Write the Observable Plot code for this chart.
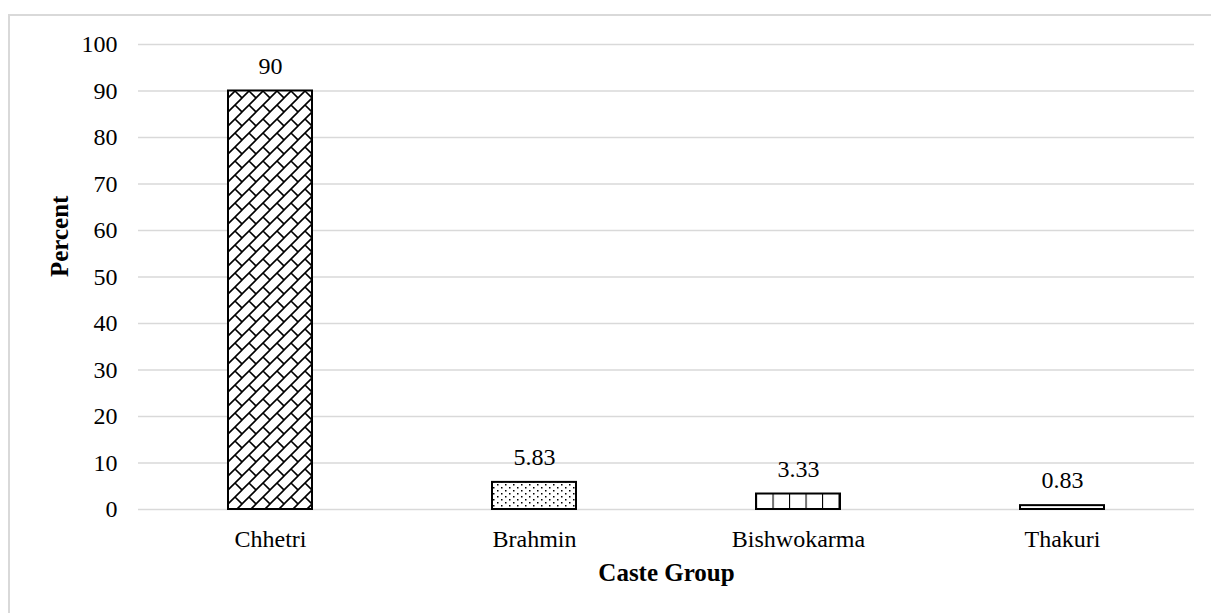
<!DOCTYPE html>
<html>
<head>
<meta charset="utf-8">
<script src="https://cdn.jsdelivr.net/npm/d3@7"></script>
<script src="https://cdn.jsdelivr.net/npm/@observablehq/plot@0.6"></script>
<style>
  html, body { margin: 0; padding: 0; background: #fff; }
  #chart { position: relative; width: 1211px; height: 613px; overflow: hidden; }
  #chart::before {
    content: ""; position: absolute; left: 8px; top: 14px;
    width: 1300px; height: 700px; border: 2px solid #d9d9d9;
  }
  #chart svg { position: absolute; left: 0; top: 0; }
  #chart svg text { font-family: "Liberation Serif", "Times New Roman", serif; }
</style>
</head>
<body>
<div id="chart"></div>
<script>
// Caste composition of respondents (percent)
const castes = ["Chhetri", "Brahmin", "Bishwokarma", "Thakuri"];
const percents = [90, 5.83, 3.33, 0.83];
const yTicks = [0, 10, 20, 30, 40, 50, 60, 70, 80, 90, 100];

// Fill pattern used for each bar
const hatch = {
  Chhetri: "url(#brick)",
  Brahmin: "url(#dots)",
  Bishwokarma: "url(#vlines)",
  Thakuri: "#ffffff"
};

const rows = castes.map((caste, i) => ({caste, percent: percents[i]}));
const serif = "'Liberation Serif', 'Times New Roman', serif";

const plot = Plot.plot({
  width: 1211,
  height: 613,
  marginLeft: 138,
  marginRight: 17,
  marginTop: 44,
  marginBottom: 104,
  style: {fontFamily: serif, fontSize: "24px", color: "#000", background: "transparent", overflow: "visible"},
  x: {domain: castes, paddingInner: 0.68, paddingOuter: 0.34, label: null},
  y: {domain: [0, 100], label: null},
  color: {type: "identity"},
  marks: [
    Plot.gridY(yTicks, {stroke: "#d9d9d9", strokeOpacity: 1, strokeWidth: 1.6}),
    Plot.axisY({ticks: yTicks, tickSize: 0, tickPadding: 21, label: null, fontSize: 24}),
    Plot.axisX({tickSize: 0, tickPadding: 20, label: null, fontSize: 24}),
    Plot.barY(rows, {
      x: "caste", y: "percent",
      fill: d => hatch[d.caste],
      stroke: "#000", strokeWidth: 2
    }),
    Plot.text(rows, {
      x: "caste", y: "percent",
      text: d => String(d.percent),
      dy: -25, fontSize: 24, fill: "#000"
    }),
    Plot.text(["Percent"], {
      frameAnchor: "left", rotate: -90, dx: -79,
      fontSize: 25, fontWeight: "bold", fill: "#000"
    }),
    Plot.text(["Caste Group"], {
      frameAnchor: "bottom", dy: 71,
      fontSize: 25, fontWeight: "bold", fill: "#000"
    })
  ]
});

// Pattern definitions for the bar fills
const xs = plot.scale("x");
const svg = d3.select(plot);
const defs = svg.insert("defs", ":first-child");

// diagonal brick: continuous "/" courses joined by short "\" mortar joints
const brick = defs.append("pattern")
  .attr("id", "brick").attr("patternUnits", "userSpaceOnUse")
  .attr("x", xs.apply("Chhetri")).attr("y", 0)
  .attr("width", 14).attr("height", 14);
brick.append("rect").attr("width", 14).attr("height", 14).attr("fill", "#fff");
brick.append("path")
  .attr("d", "M0,14L14,0M-1,1L1,-1M13,15L15,13M7,7L14,14M-1,-1L0,0")
  .attr("stroke", "#000").attr("stroke-width", 1.6).attr("fill", "none");

const dots = defs.append("pattern")
  .attr("id", "dots").attr("patternUnits", "userSpaceOnUse")
  .attr("x", xs.apply("Brahmin")).attr("y", 0)
  .attr("width", 8).attr("height", 6);
dots.append("rect").attr("width", 8).attr("height", 6).attr("fill", "#fff");
dots.append("rect").attr("x", 1).attr("y", 1).attr("width", 1.5).attr("height", 1.5).attr("fill", "#000");
dots.append("rect").attr("x", 5).attr("y", 4).attr("width", 1.5).attr("height", 1.5).attr("fill", "#000");

const vlines = defs.append("pattern")
  .attr("id", "vlines").attr("patternUnits", "userSpaceOnUse")
  .attr("x", xs.apply("Bishwokarma")).attr("y", 0)
  .attr("width", 16.5).attr("height", 10);
vlines.append("rect").attr("width", 16.5).attr("height", 10).attr("fill", "#fff");
vlines.append("path").attr("d", "M0,0V10")
  .attr("stroke", "#000").attr("stroke-width", 2.2).attr("fill", "none");

document.getElementById("chart").appendChild(plot);
</script>
</body>
</html>
